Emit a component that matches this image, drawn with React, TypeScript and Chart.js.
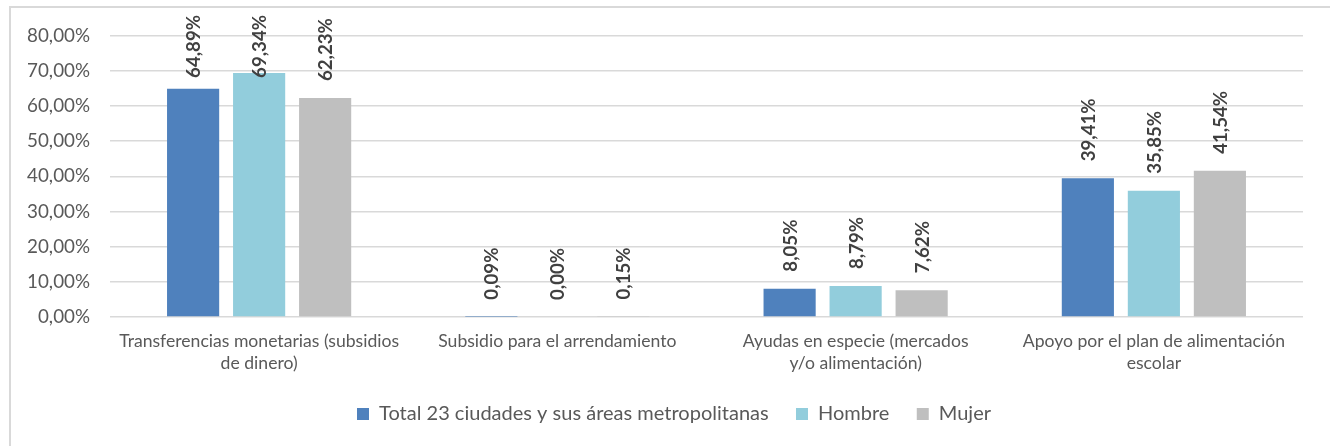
import React, { useEffect, useRef } from "react";
import { Chart, registerables } from "chart.js";

Chart.register(...registerables);

const categories: string[][] = [
  ["Transferencias monetarias (subsidios", "de dinero)"],
  ["Subsidio para el arrendamiento"],
  ["Ayudas en especie (mercados", "y/o alimentación)"],
  ["Apoyo por el plan de alimentación", "escolar"],
];
const seriesNames = ["Total 23 ciudades y sus áreas metropolitanas", "Hombre", "Mujer"];
const totalValues = [64.89, 0.09, 8.05, 39.41];
const hombreValues = [69.34, 0.0, 8.79, 35.85];
const mujerValues = [62.23, 0.15, 7.62, 41.54];
const seriesColors = ["#4F81BD", "#92CDDC", "#BFBFBF"];
const yTicks = [0, 10, 20, 30, 40, 50, 60, 70, 80];

const FONT = "Lato, 'Open Sans', sans-serif";
const fmt = (v: number) => v.toFixed(2).replace(".", ",") + "%";

function measure(text: string, size: number, weight = "normal") {
  const c = document.createElement("canvas").getContext("2d")!;
  c.font = `${weight} ${size}px ${FONT}`;
  return c.measureText(text).width;
}
function fitSize(text: string, target: number, weight = "normal") {
  return (100 * target) / measure(text, 100, weight);
}

export default function App() {
  const ref = useRef<HTMLCanvasElement | null>(null);
  useEffect(() => {
    if (!ref.current) return;
    const tickSize = fitSize("80,00%", 63);
    const catSize = fitSize("Transferencias monetarias (subsidios", 280);
    const legSize = fitSize("Total 23 ciudades y sus áreas metropolitanas", 390);
    const lblSize = fitSize("64,89%", 63, "bold");
    const textSum = seriesNames.reduce((s, n) => s + measure(n, legSize), 0);
    const boxW = 12;
    const legPad = Math.max(10, (634 - 3 * boxW - 1.5 * legSize - textSum) / 2);
    const itemH = Math.max(legSize, boxW);
    const legendCenter = 406;
    const legBottom = legendCenter + itemH / 2 + 10;
    const padBottom = 438 - legBottom;
    const legTop = legBottom - (itemH + legPad + 10);
    const areaBottom = 309;
    const xAxisH = legTop - areaBottom;

    const dataLabelPlugin = {
      id: "rotLabels",
      afterDatasetsDraw(chart: any) {
        const ctx = chart.ctx;
        ctx.save();
        ctx.font = `bold ${lblSize}px ${FONT}`;
        ctx.fillStyle = "#404040";
        ctx.textAlign = "left";
        ctx.textBaseline = "middle";
        chart.data.datasets.forEach((ds: any, di: number) => {
          const meta = chart.getDatasetMeta(di);
          meta.data.forEach((bar: any, i: number) => {
            const text = fmt(ds.data[i]);
            const w = ctx.measureText(text).width;
            let start = bar.y - 17;
            const minTop = 7;
            if (start - w < minTop) start = minTop + w;
            ctx.save();
            ctx.translate(bar.x + 1, start);
            ctx.rotate(-Math.PI / 2);
            ctx.fillText(text, 0, 0);
            ctx.restore();
          });
        });
        ctx.restore();
      },
    };

    const legendShift = {
      id: "legendShift",
      afterLayout(chart: any) {
        if (chart.legend) {
          chart.legend.left += 17;
          chart.legend.right += 17;
        }
      },
    };

    const data = [totalValues, hombreValues, mujerValues];
    const chart = new Chart(ref.current, {
      type: "bar",
      data: {
        labels: categories,
        datasets: seriesNames.map((name, k) => ({
          label: name,
          data: data[k],
          backgroundColor: seriesColors[k],
          borderWidth: 0,
          categoryPercentage: 0.664,
          barPercentage: 0.79,
        })),
      },
      options: {
        animation: false,
        responsive: false,
        maintainAspectRatio: false,
        layout: { padding: { top: 27.5, right: 27, left: 0, bottom: padBottom } },
        plugins: {
          legend: {
            position: "bottom",
            labels: {
              boxWidth: boxW,
              boxHeight: boxW,
              padding: legPad,
              color: "#595959",
              font: { family: FONT, size: legSize },
            },
          },
          tooltip: { enabled: false },
        },
        scales: {
          x: {
            grid: { display: false, drawTicks: false },
            border: { display: false },
            ticks: {
              color: "#595959",
              font: { family: FONT, size: catSize, lineHeight: 22 / catSize },
              padding: 13,
              maxRotation: 0,
              autoSkip: false,
            },
            afterFit: (s: any) => {
              s.height = xAxisH;
            },
          },
          y: {
            min: 0,
            max: 80,
            afterBuildTicks: (s: any) => {
              s.ticks = yTicks.map((v) => ({ value: v }));
            },
            grid: { color: "#D9D9D9", lineWidth: 1.5, drawTicks: false },
            border: { display: false },
            ticks: {
              color: "#595959",
              font: { family: FONT, size: tickSize },
              padding: 20,
              callback: (v: any) => fmt(Number(v)),
            },
            afterFit: (s: any) => {
              s.width = 99;
              s.paddingTop = 0;
              s.paddingBottom = 0;
            },
          },
        },
      },
      plugins: [dataLabelPlugin, legendShift],
    } as any);
    return () => chart.destroy();
  }, []);
  return (
    <div
      style={{
        position: "fixed",
        left: 9,
        top: 6,
        width: 1321,
        height: 440,
        borderTop: "2px solid #D9D9D9",
        borderLeft: "2px solid #D9D9D9",
        background: "#fff",
        overflow: "hidden",
      }}
    >
      <canvas ref={ref} width={1319} height={438} style={{ display: "block" }} />
    </div>
  );
}
